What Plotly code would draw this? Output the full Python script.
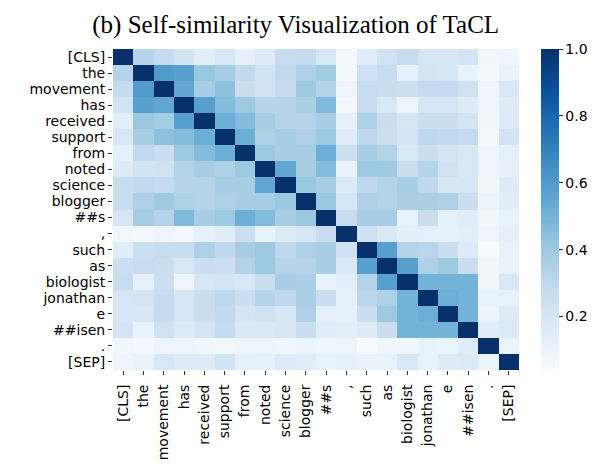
import plotly.graph_objects as go

tokens = ["[CLS]", "the", "movement", "has", "received", "support", "from", "noted",
          "science", "blogger", "##s", ",", "such", "as", "biologist", "jonathan",
          "e", "##isen", ".", "[SEP]"]

row_cls      = [1.00, 0.33, 0.28, 0.22, 0.14, 0.19, 0.12, 0.16, 0.27, 0.28, 0.19, 0.07, 0.15, 0.23, 0.27, 0.20, 0.20, 0.21, 0.08, 0.09]
row_the      = [0.33, 1.00, 0.60, 0.58, 0.41, 0.37, 0.29, 0.22, 0.29, 0.35, 0.39, 0.06, 0.24, 0.27, 0.12, 0.21, 0.20, 0.11, 0.06, 0.11]
row_movement = [0.28, 0.60, 1.00, 0.55, 0.38, 0.44, 0.26, 0.23, 0.28, 0.40, 0.33, 0.09, 0.27, 0.26, 0.25, 0.28, 0.28, 0.23, 0.09, 0.19]
row_has      = [0.22, 0.58, 0.55, 1.00, 0.58, 0.46, 0.40, 0.33, 0.33, 0.36, 0.47, 0.07, 0.27, 0.19, 0.09, 0.20, 0.20, 0.16, 0.09, 0.16]
row_received = [0.14, 0.41, 0.38, 0.58, 1.00, 0.52, 0.46, 0.37, 0.33, 0.33, 0.37, 0.12, 0.35, 0.26, 0.20, 0.26, 0.26, 0.21, 0.08, 0.16]
row_support  = [0.19, 0.37, 0.44, 0.46, 0.52, 1.00, 0.52, 0.35, 0.37, 0.35, 0.40, 0.15, 0.30, 0.25, 0.21, 0.30, 0.29, 0.28, 0.07, 0.22]
row_from     = [0.12, 0.29, 0.26, 0.40, 0.46, 0.52, 1.00, 0.40, 0.37, 0.37, 0.52, 0.25, 0.37, 0.34, 0.19, 0.26, 0.21, 0.18, 0.09, 0.13]
row_noted    = [0.16, 0.22, 0.23, 0.33, 0.37, 0.35, 0.40, 1.00, 0.55, 0.37, 0.46, 0.11, 0.40, 0.40, 0.26, 0.33, 0.23, 0.18, 0.09, 0.12]
row_science  = [0.27, 0.29, 0.28, 0.33, 0.33, 0.37, 0.37, 0.55, 1.00, 0.41, 0.37, 0.17, 0.30, 0.33, 0.37, 0.30, 0.20, 0.20, 0.08, 0.16]
row_blogger  = [0.27, 0.35, 0.40, 0.35, 0.33, 0.35, 0.37, 0.37, 0.41, 1.00, 0.41, 0.20, 0.35, 0.33, 0.36, 0.36, 0.35, 0.26, 0.10, 0.15]
row_s        = [0.20, 0.38, 0.33, 0.47, 0.37, 0.40, 0.52, 0.46, 0.37, 0.41, 1.00, 0.27, 0.37, 0.37, 0.11, 0.26, 0.12, 0.15, 0.08, 0.11]
row_comma    = [0.07, 0.06, 0.09, 0.07, 0.12, 0.15, 0.25, 0.11, 0.17, 0.20, 0.27, 1.00, 0.24, 0.18, 0.14, 0.13, 0.12, 0.14, 0.09, 0.13]
row_such     = [0.15, 0.25, 0.27, 0.27, 0.35, 0.30, 0.37, 0.40, 0.30, 0.35, 0.37, 0.24, 1.00, 0.58, 0.33, 0.32, 0.26, 0.16, 0.04, 0.11]
row_as       = [0.25, 0.27, 0.26, 0.19, 0.26, 0.25, 0.34, 0.40, 0.33, 0.33, 0.37, 0.18, 0.58, 1.00, 0.58, 0.35, 0.40, 0.26, 0.08, 0.11]
row_biologist= [0.27, 0.12, 0.25, 0.09, 0.20, 0.21, 0.19, 0.26, 0.37, 0.36, 0.11, 0.14, 0.33, 0.58, 1.00, 0.50, 0.50, 0.50, 0.08, 0.19]
row_jonathan = [0.20, 0.21, 0.28, 0.20, 0.26, 0.30, 0.26, 0.33, 0.30, 0.36, 0.26, 0.13, 0.32, 0.35, 0.50, 1.00, 0.52, 0.50, 0.11, 0.11]
row_e        = [0.20, 0.20, 0.28, 0.20, 0.26, 0.29, 0.21, 0.23, 0.20, 0.35, 0.12, 0.12, 0.26, 0.40, 0.50, 0.52, 1.00, 0.50, 0.10, 0.16]
row_isen     = [0.21, 0.11, 0.23, 0.16, 0.21, 0.28, 0.18, 0.18, 0.20, 0.26, 0.15, 0.14, 0.16, 0.26, 0.50, 0.50, 0.50, 1.00, 0.15, 0.17]
row_period   = [0.08, 0.06, 0.09, 0.09, 0.08, 0.07, 0.09, 0.09, 0.08, 0.10, 0.08, 0.09, 0.04, 0.08, 0.08, 0.11, 0.10, 0.15, 1.00, 0.10]
row_sep      = [0.09, 0.11, 0.19, 0.16, 0.16, 0.22, 0.13, 0.12, 0.16, 0.15, 0.11, 0.13, 0.11, 0.11, 0.19, 0.11, 0.16, 0.17, 0.10, 1.00]

z = [row_cls, row_the, row_movement, row_has, row_received, row_support, row_from,
     row_noted, row_science, row_blogger, row_s, row_comma, row_such, row_as,
     row_biologist, row_jonathan, row_e, row_isen, row_period, row_sep]

blues = [
    [0.0, "rgb(247,251,255)"], [0.125, "rgb(222,235,247)"], [0.25, "rgb(198,219,239)"],
    [0.375, "rgb(158,202,225)"], [0.5, "rgb(107,174,214)"], [0.625, "rgb(66,146,198)"],
    [0.75, "rgb(33,113,181)"], [0.875, "rgb(8,81,156)"], [1.0, "rgb(8,48,107)"],
]

tick_font = dict(family="DejaVu Sans", size=14, color="#000000")

fig = go.Figure(go.Heatmap(
    z=z, x=list(range(len(tokens))), y=list(range(len(tokens))),
    colorscale=blues, zmin=0.04, zmax=1.0,
    xgap=0, ygap=0,
    colorbar=dict(
        x=1.055, xanchor="left", y=0.5, yanchor="middle", len=1.0, lenmode="fraction",
        ypad=0, xpad=0,
        thickness=18, outlinewidth=0,
        tickvals=[0.2, 0.4, 0.6, 0.8, 1.0], ticktext=["0.2", "0.4", "0.6", "0.8", "1.0"],
        ticks="outside", ticklen=4, tickwidth=1, tickcolor="#333333",
        tickfont=tick_font,
    ),
))

fig.update_xaxes(
    tickmode="array", tickvals=list(range(len(tokens))), ticktext=tokens,
    tickangle=-90, ticks="outside", ticklen=4, tickcolor="#333333",
    ticklabelstandoff=4,
    tickfont=tick_font, showgrid=False, zeroline=False, showline=False,
)
fig.update_yaxes(
    tickmode="array", tickvals=list(range(len(tokens))), ticktext=tokens,
    autorange="reversed", ticks="outside", ticklen=4, tickcolor="#333333",
    tickfont=tick_font, showgrid=False, zeroline=False, showline=False,
)

fig.update_layout(
    width=598, height=464,
    margin=dict(l=105, r=87, t=41, b=95),
    paper_bgcolor="white", plot_bgcolor="white",
    title=dict(text="(b) Self-similarity Visualization of TaCL",
               font=dict(family="Liberation Serif", size=25, color="#000000"),
               x=0.45, xref="paper", xanchor="center", y=0.965, yanchor="middle"),
)

fig.write_html("out.html")
